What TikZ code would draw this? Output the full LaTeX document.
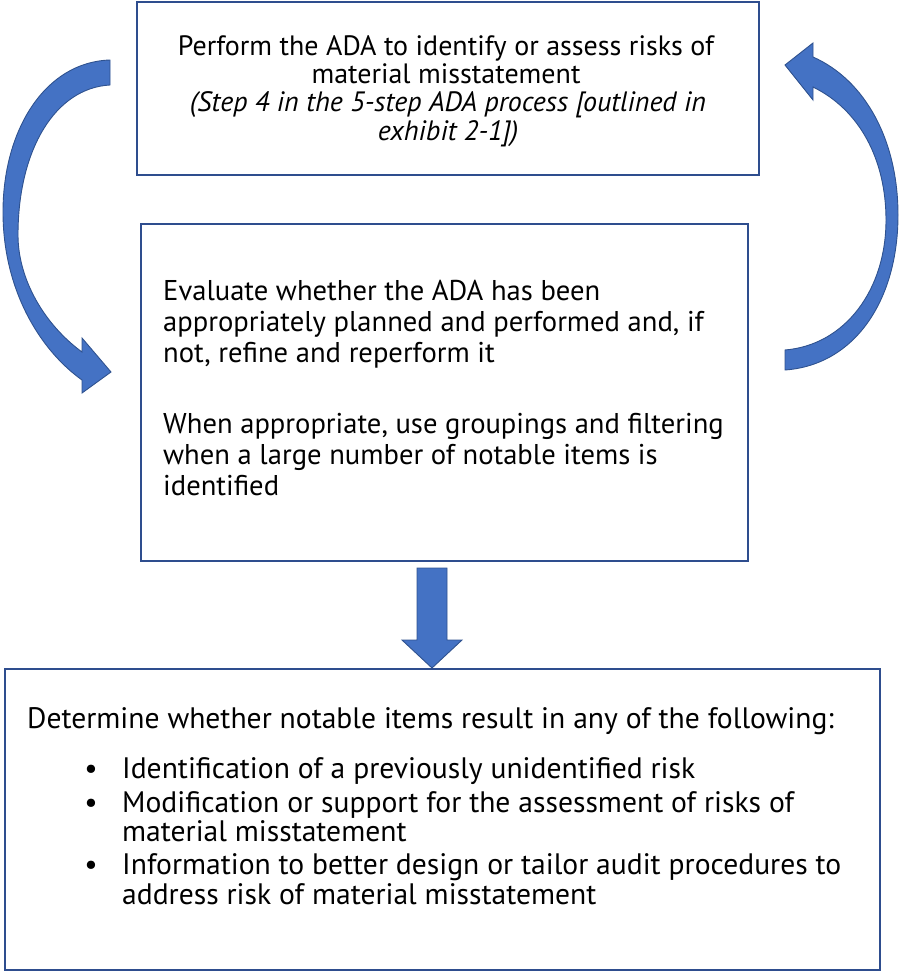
\documentclass[tikz,border=0pt]{standalone}
\usepackage{fontspec}
\setmainfont{PT Sans}
\definecolor{boxline}{HTML}{2E4D8E}
\definecolor{arrfill}{HTML}{4472C4}
\definecolor{arrline}{HTML}{2F528F}
\tikzset{
  box/.style={draw=boxline, line width=2.6pt, anchor=north west, inner sep=0pt, outer sep=0pt},
  txt/.style={inner sep=0pt, font=\fontsize{28}{30}\selectfont, anchor=base west},
  ctxt/.style={txt, anchor=base},
  mtxt/.style={txt, font=\fontsize{28.6}{30}\selectfont},
  btxt/.style={txt, font=\fontsize{29.6}{30}\selectfont},
  bigarrow/.style={fill=arrfill, draw=arrline, line width=0.9pt, line join=miter}
}
\begin{document}
\begin{tikzpicture}[x=1pt,y=-1pt]
\useasboundingbox (0,0) rectangle (900,972);
% boxes
\node[box, minimum width=622pt, minimum height=173pt] (top) at (137,2) {};
\node[box, minimum width=607pt, minimum height=337pt] (mid) at (141,224) {};
\node[box, minimum width=875pt, minimum height=301pt] (bot) at (5,669) {};
% top texts
\node[ctxt] (t1) at (446,55) {Perform the ADA to identify or assess risks of};
\node[ctxt] (t2) at (446,83) {material misstatement};
\node[ctxt] (t3) at (448,111) {\itshape (Step 4 in the 5-step ADA process [outlined in};
\node[ctxt] (t4) at (448,140) {\itshape exhibit 2-1])};
% middle texts
\node[mtxt] (m1) at (163,300) {Evaluate whether the ADA has been};
\node[mtxt] (m2) at (163,331) {appropriately planned and performed and, if};
\node[mtxt] (m3) at (163,362) {not, refine and reperform it};
\node[mtxt] (m4) at (163,433) {When appropriate, use groupings and filtering};
\node[mtxt] (m5) at (163,464) {when a large number of notable items is};
\node[mtxt] (m6) at (163,495) {identified};
% bottom texts
\node[btxt] (b0) at (27,728) {Determine whether notable items result in any of the following:};
\node[btxt, anchor=base] (bb1) at (91,778) {\textbullet};
\node[btxt] (b1) at (122,778) {Identification of a previously unidentified risk};
\node[btxt, anchor=base] (bb2) at (91,812) {\textbullet};
\node[btxt] (b2) at (122,812) {Modification or support for the assessment of risks of};
\node[btxt] (b3) at (122,841) {material misstatement};
\node[btxt, anchor=base] (bb4) at (91,874) {\textbullet};
\node[btxt] (b4) at (122,874) {Information to better design or tailor audit procedures to};
\node[btxt] (b5) at (122,904) {address risk of material misstatement};
% down arrow
\coordinate (dn) at (432,568);
\draw[bigarrow] (dn) ++(-15,0) -- ++(30,0) -- ++(0,72) -- ++(15,0) -- ++(-30,28) -- ++(-30,-28) -- ++(15,0) -- cycle;
% left curved arrow
\coordinate (lt) at (110,60);
\draw[bigarrow] (lt) .. controls (45,62) and (3,130) .. (3,212) .. controls (3,290) and (40,350) .. (82,380) -- (82,393) -- (111,372) -- (82,338) -- (82,352) .. controls (45,325) and (18,280) .. (18,235) .. controls (18,150) and (55,88) .. (110,85) -- cycle;
% right curved arrow
\coordinate (rt) at (785,370);
\draw[bigarrow] (rt) .. controls (855,365) and (898,300) .. (898,215) .. controls (898,140) and (865,80) .. (813,57) -- (813,43) -- (785,65) -- (813,100) -- (813,87) .. controls (860,110) and (886,160) .. (886,220) .. controls (886,290) and (845,345) .. (785,350) -- cycle;
\end{tikzpicture}
\end{document}
